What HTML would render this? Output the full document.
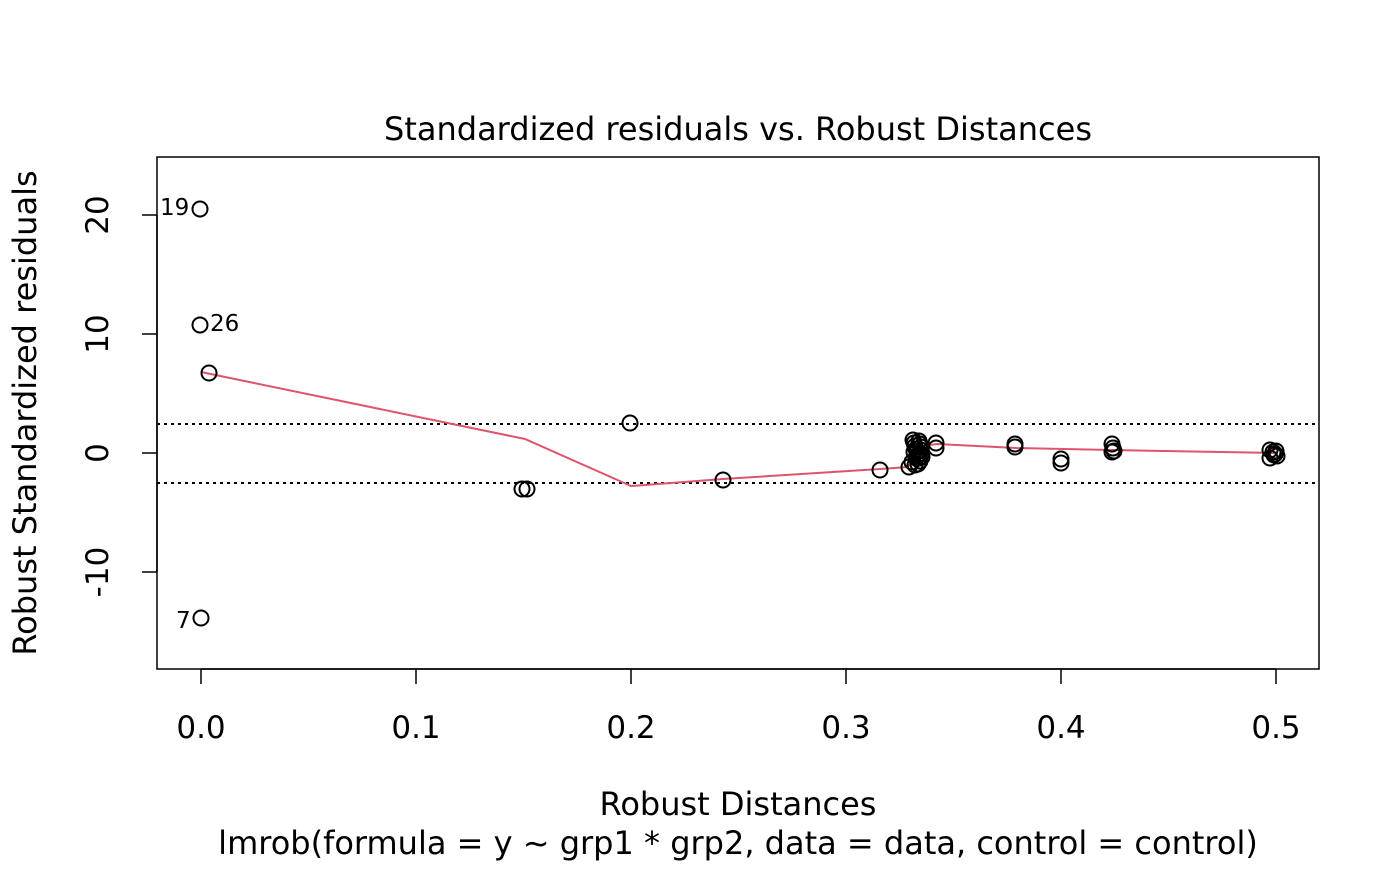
<!DOCTYPE html>
<html><head><style>body{margin:0;background:#fff}</style></head><body>
<svg width="1400" height="866" xmlns="http://www.w3.org/2000/svg" font-family="DejaVu Sans, sans-serif">
<rect width="1400" height="866" fill="#fff"/>
<rect x="157" y="157" width="1162" height="512" fill="none" stroke="#000" stroke-width="1.5"/>
<text x="738" y="140" font-size="32" text-anchor="middle">Standardized residuals vs. Robust Distances</text>
<text x="738" y="815" font-size="32" text-anchor="middle">Robust Distances</text>
<text x="738" y="854" font-size="32" text-anchor="middle">lmrob(formula = y ~ grp1 * grp2, data = data, control = control)</text>
<text transform="translate(36,413) rotate(-90)" font-size="32" text-anchor="middle">Robust Standardized residuals</text>
<g stroke="#000" stroke-width="1.5">
<line x1="201" y1="669" x2="1276" y2="669"/>
<line x1="201" y1="669" x2="201" y2="684"/><line x1="416" y1="669" x2="416" y2="684"/><line x1="631" y1="669" x2="631" y2="684"/><line x1="846" y1="669" x2="846" y2="684"/><line x1="1061" y1="669" x2="1061" y2="684"/><line x1="1276" y1="669" x2="1276" y2="684"/>
<line x1="157" y1="215" x2="157" y2="572"/>
<line x1="142" y1="215" x2="157" y2="215"/><line x1="142" y1="334" x2="157" y2="334"/><line x1="142" y1="453" x2="157" y2="453"/><line x1="142" y1="572" x2="157" y2="572"/>
</g>
<g font-size="31" text-anchor="middle">
<text x="201" y="738">0.0</text><text x="416" y="738">0.1</text><text x="631" y="738">0.2</text><text x="846" y="738">0.3</text><text x="1061" y="738">0.4</text><text x="1276" y="738">0.5</text>
<text transform="translate(108,215) rotate(-90)">20</text>
<text transform="translate(108,334) rotate(-90)">10</text>
<text transform="translate(108,453) rotate(-90)">0</text>
<text transform="translate(108,572) rotate(-90)">-10</text>
</g>
<g stroke="#000" stroke-width="2" stroke-dasharray="3,4">
<line x1="157" y1="424" x2="1319" y2="424"/><line x1="157" y1="483" x2="1319" y2="483"/>
</g>
<polyline fill="none" stroke="#DF536B" stroke-width="2" points="201,372 525,439 631,486 723,479 880,469 908,467 922,446 937,444 1016,448 1112,450 1276,453"/>
<g fill="none" stroke="#000" stroke-width="2">
<circle cx="200" cy="209" r="7.5"/><circle cx="200" cy="325" r="7.5"/><circle cx="209" cy="373" r="7.5"/><circle cx="201" cy="618" r="7.5"/>
<circle cx="522" cy="489" r="7.5"/><circle cx="527" cy="489" r="7.5"/><circle cx="630" cy="423" r="7.5"/><circle cx="723" cy="480" r="7.5"/><circle cx="880" cy="470" r="7.5"/>
<circle cx="909" cy="467" r="7.5"/>
<circle cx="913" cy="440" r="7.5"/><circle cx="914" cy="443" r="7.5"/><circle cx="915" cy="446" r="7.5"/><circle cx="916" cy="449" r="7.5"/><circle cx="917" cy="452" r="7.5"/><circle cx="918" cy="455" r="7.5"/><circle cx="919" cy="458" r="7.5"/><circle cx="920" cy="461" r="7.5"/><circle cx="918" cy="464" r="7.5"/>
<circle cx="919" cy="441" r="7.5"/><circle cx="920" cy="444" r="7.5"/><circle cx="921" cy="447" r="7.5"/><circle cx="921" cy="450" r="7.5"/><circle cx="921" cy="454" r="7.5"/><circle cx="922" cy="457" r="7.5"/><circle cx="915" cy="465" r="7.5"/><circle cx="912" cy="462" r="7.5"/><circle cx="916" cy="458" r="7.5"/><circle cx="914" cy="452" r="7.5"/>
<circle cx="936" cy="443" r="7.5"/><circle cx="936" cy="448" r="7.5"/>
<circle cx="1015" cy="444" r="7.5"/><circle cx="1015" cy="447" r="7.5"/>
<circle cx="1061" cy="459" r="7.5"/><circle cx="1061" cy="463" r="7.5"/>
<circle cx="1112" cy="444" r="7.5"/><circle cx="1113" cy="448" r="7.5"/><circle cx="1114" cy="451" r="7.5"/><circle cx="1112" cy="452" r="7.5"/>
<circle cx="1270" cy="450" r="7.5"/><circle cx="1273" cy="452" r="7.5"/><circle cx="1275" cy="454" r="7.5"/><circle cx="1276" cy="451" r="7.5"/><circle cx="1270" cy="458" r="7.5"/><circle cx="1277" cy="456" r="7.5"/><circle cx="1274" cy="455" r="7.5"/>
</g>
<g font-size="23">
<text x="160" y="215">19</text><text x="210" y="331">26</text><text x="176" y="628">7</text>
</g>
</svg>
</body></html>
